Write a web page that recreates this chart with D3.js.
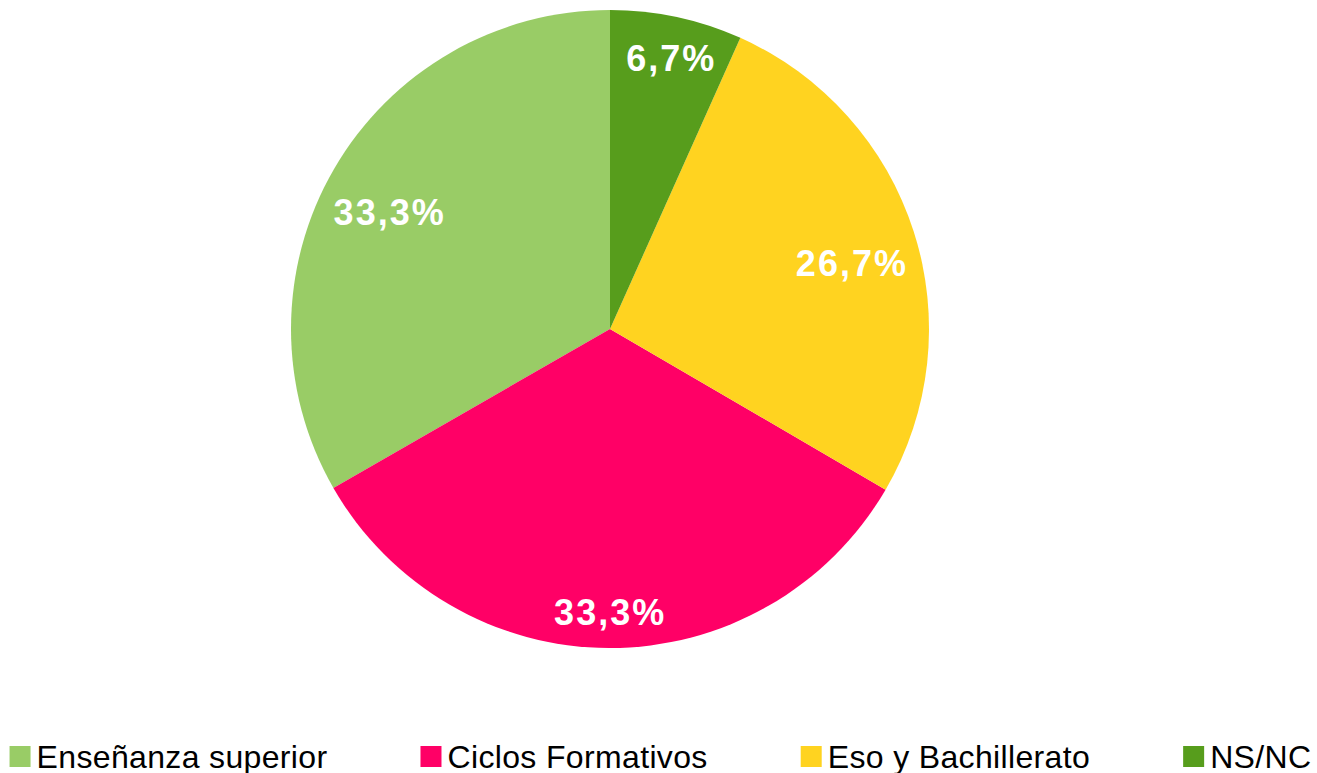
<!DOCTYPE html>
<html>
<head>
<meta charset="utf-8">
<script src="https://cdn.jsdelivr.net/npm/d3@7.9.0/dist/d3.min.js"></script>
<style>
  html, body { margin: 0; padding: 0; background: #fff; }
  svg { display: block; font-family: "Liberation Sans", Arial, sans-serif; }
</style>
</head>
<body>
<svg id="chart" width="1317" height="773"></svg>
<script>
const categories = ['Enseñanza superior', 'Ciclos Formativos', 'Eso y Bachillerato', 'NS/NC'];
const values = [33.3, 33.3, 26.7, 6.7];
const labels = ['33,3%', '33,3%', '26,7%', '6,7%'];
const colorList = ['#99cc66', '#ff0066', '#ffd320', '#579d1c'];

const width = 1317, height = 773;
const cx = 610, cy = 329, radius = 319;

const data = categories.map((c, i) => ({ label: c, value: values[i], text: labels[i] }));
const svg = d3.select('#chart');

const color = d3.scaleOrdinal().domain(categories).range(colorList);

// counter-clockwise from 12 o'clock, like the office chart
const pie = d3.pie().value(d => d.value).sort(null).startAngle(0).endAngle(-2 * Math.PI);
const arc = d3.arc().innerRadius(0).outerRadius(radius);
const arcs = pie(data);

const g = svg.append('g').attr('transform', `translate(${cx},${cy})`);

g.selectAll('path')
  .data(arcs)
  .join('path')
  .attr('d', arc)
  .attr('fill', d => color(d.data.label));

// labels: slide out along the mid angle until the text box touches the rim
const rim = radius - 10, hh = 20, drop = 12;
g.selectAll('text.pct')
  .data(arcs)
  .join('text')
  .attr('class', 'pct')
  .attr('text-anchor', 'middle')
  .attr('dominant-baseline', 'central')
  .attr('fill', '#fff')
  .attr('font-weight', 'bold')
  .attr('font-size', 36)
  .attr('letter-spacing', 2)
  .text(d => d.data.text)
  .each(function(d) {
    const hw = this.getBBox().width / 2;
    const a = (d.startAngle + d.endAngle) / 2;
    const ux = Math.sin(a), uy = -Math.cos(a);
    let lo = 0, hi = radius;
    for (let k = 0; k < 40; k++) {
      const r = (lo + hi) / 2;
      const x = r * ux, y = r * uy + drop;
      if (Math.hypot(Math.abs(x) + hw, Math.abs(y) + hh) > rim) hi = r; else lo = r;
    }
    d3.select(this).attr('x', lo * ux + 1).attr('y', lo * uy + drop);
  });

// legend, centred across the bottom
const legend = svg.append('g').attr('class', 'legend');
const box = 21, textGap = 6, itemGap = 93, baseY = 768;
const items = legend.selectAll('g')
  .data(data)
  .join('g');
items.append('rect')
  .attr('width', box)
  .attr('height', box)
  .attr('y', baseY - 22)
  .attr('fill', d => color(d.label));
items.append('text')
  .attr('x', box + textGap)
  .attr('y', baseY)
  .attr('font-size', 32)
  .attr('letter-spacing', 0.35)
  .attr('fill', '#000')
  .text(d => d.label);

let widths = [];
items.each(function() { widths.push(this.getBBox().width); });
const total = d3.sum(widths) + itemGap * (widths.length - 1);
let xPos = (width - total) / 2 + 2;
items.each(function(d, i) {
  d3.select(this).attr('transform', `translate(${xPos},0)`);
  xPos += widths[i] + itemGap;
});
</script>
</body>
</html>
